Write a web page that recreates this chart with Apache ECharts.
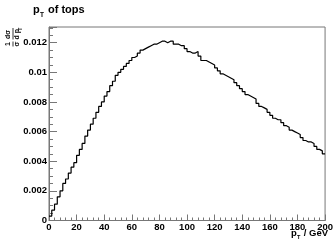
<!DOCTYPE html>
<html>
<head>
<meta charset="utf-8">
<script src="https://cdn.jsdelivr.net/npm/echarts@6/dist/echarts.min.js"></script>
<style>html,body{margin:0;padding:0;background:#fff;}#c{width:336px;height:241px;}</style>
</head>
<body>
<div id="c"></div>
<script>
// Histogram: p_T of tops, 2 GeV bins from 0 to 200
var binLowEdges = [];
for (var i = 0; i < 100; i++) binLowEdges.push(i * 2);
var xMax = 200;
var binValues = [
  0.0003, 0.0007, 0.0011, 0.0016, 0.0020, 0.0025, 0.0028, 0.0032, 0.0036, 0.0039,
  0.0044, 0.0048, 0.0052, 0.0057, 0.0061, 0.0065, 0.0069, 0.0073, 0.0077, 0.0080,
  0.0084, 0.0087, 0.0091, 0.0094, 0.0098, 0.0100, 0.0102, 0.0104, 0.0106, 0.0108,
  0.0110, 0.0111, 0.0113, 0.0115, 0.0116, 0.0117, 0.0118, 0.0119, 0.0119, 0.0120,
  0.0121, 0.0121, 0.0120, 0.0121, 0.0121, 0.0119, 0.0119, 0.0118, 0.0118, 0.0116,
  0.0114, 0.0113, 0.0113, 0.0114, 0.0111, 0.0108, 0.0108, 0.0107, 0.0106, 0.0105,
  0.0103, 0.0101, 0.0099, 0.0098, 0.0097, 0.0096, 0.0095, 0.0093, 0.0091, 0.0089,
  0.0087, 0.0085, 0.0084, 0.0083, 0.0082, 0.0079, 0.0077, 0.0076, 0.0075, 0.0073,
  0.0071, 0.0069, 0.0068, 0.0068, 0.0066, 0.0064, 0.0063, 0.0061, 0.0060, 0.0059,
  0.0058, 0.0056, 0.0054, 0.0053, 0.0053, 0.0052, 0.0050, 0.0048, 0.0047, 0.0045
];
var xTickLabels = ['0','20','40','60','80','100','120','140','160','180','200'];
var yTickLabels = ['0','0.002','0.004','0.006','0.008','0.01','0.012'];

var stepData = [];
for (var k = 0; k < binValues.length; k++) stepData.push([binLowEdges[k], binValues[k]]);
stepData.push([xMax, binValues[binValues.length - 1]]);

var FONT = 'Liberation Sans';
var chart = echarts.init(document.getElementById('c'), null, {renderer: 'canvas'});
chart.setOption({
  animation: false,
  backgroundColor: '#fff',
  grid: {left: 49, right: 8, top: 27, bottom: 20.5, show: true, borderColor: '#777', borderWidth: 1, backgroundColor: 'transparent'},
  xAxis: {
    type: 'value', min: 0, max: 200, interval: 20,
    axisLine: {show: true, lineStyle: {color: '#777', width: 1}},
    axisTick: {show: true, inside: true, length: 6, lineStyle: {color: '#777'}},
    minorTick: {show: true, splitNumber: 5, length: 3, lineStyle: {color: '#777'}},
    splitLine: {show: false},
    axisLabel: {margin: 2, color: '#000', fontFamily: FONT, fontWeight: 'bold', fontSize: 9.5,
      formatter: function (v) { var s = xTickLabels[Math.round(v / 20)]; return (Math.abs(v / 20 - Math.round(v / 20)) < 1e-6 && s) ? s : ''; }}
  },
  yAxis: {
    type: 'value', min: 0, max: 0.01306, interval: 0.002,
    axisLine: {show: true, lineStyle: {color: '#777', width: 1}},
    axisTick: {show: true, inside: true, length: 8, lineStyle: {color: '#777'}},
    minorTick: {show: true, splitNumber: 4, length: 4, lineStyle: {color: '#777'}},
    splitLine: {show: false},
    axisLabel: {margin: 2, showMaxLabel: false, color: '#000', fontFamily: FONT, fontWeight: 'bold', fontSize: 9.5,
      formatter: function (v) { var idx = Math.round(v / 0.002); return (Math.abs(v / 0.002 - idx) < 1e-6 && yTickLabels[idx]) ? yTickLabels[idx] : ''; }}
  },
  series: [{
    type: 'line', step: 'end', data: stepData, showSymbol: false, symbol: 'none',
    lineStyle: {color: '#000', width: 1.2}, clip: true
  }],
  graphic: [
    {type: 'text', x: 33, y: 4, style: {text: 'p', font: 'bold 11px ' + FONT, fill: '#000'}},
    {type: 'text', x: 40, y: 12, style: {text: 'T', font: 'bold 6.5px ' + FONT, fill: '#000'}},
    {type: 'text', x: 48, y: 4, style: {text: 'of tops', font: 'bold 11px ' + FONT, fill: '#000'}},
    {type: 'text', x: 291, y: 228, style: {text: 'p', font: 'bold 9.5px ' + FONT, fill: '#000'}},
    {type: 'text', x: 297, y: 234, style: {text: 'T', font: 'bold 5.5px ' + FONT, fill: '#000'}},
    {type: 'text', x: 328, y: 228, style: {text: '/ GeV', font: 'bold 9.5px ' + FONT, fill: '#000', align: 'right'}},
    {
      type: 'group', x: 13, y: 47, rotation: Math.PI / 2,
      children: [
        {type: 'text', x: 3, y: -1, style: {text: '1', font: 'bold 7px ' + FONT, fill: '#000', align: 'center', verticalAlign: 'bottom'}},
        {type: 'line', shape: {x1: 0.5, y1: 0, x2: 5.5, y2: 0}, style: {stroke: '#000', lineWidth: 0.8}},
        {type: 'text', x: 3, y: 0.5, style: {text: 'σ', font: 'bold 7px ' + FONT, fill: '#000', align: 'center', verticalAlign: 'top'}},
        {type: 'text', x: 12.5, y: -1, style: {text: 'dσ', font: 'bold 7px ' + FONT, fill: '#000', align: 'center', verticalAlign: 'bottom'}},
        {type: 'line', shape: {x1: 7.5, y1: 0, x2: 19, y2: 0}, style: {stroke: '#000', lineWidth: 0.8}},
        {type: 'text', x: 7.5, y: 0.5, style: {text: 'd p', font: 'bold 7px ' + FONT, fill: '#000', align: 'left', verticalAlign: 'top'}},
        {type: 'text', x: 16.5, y: 5, style: {text: 'T', font: 'bold 4.5px ' + FONT, fill: '#000', align: 'left', verticalAlign: 'top'}}
      ]
    }
  ]
});
</script>
</body>
</html>
